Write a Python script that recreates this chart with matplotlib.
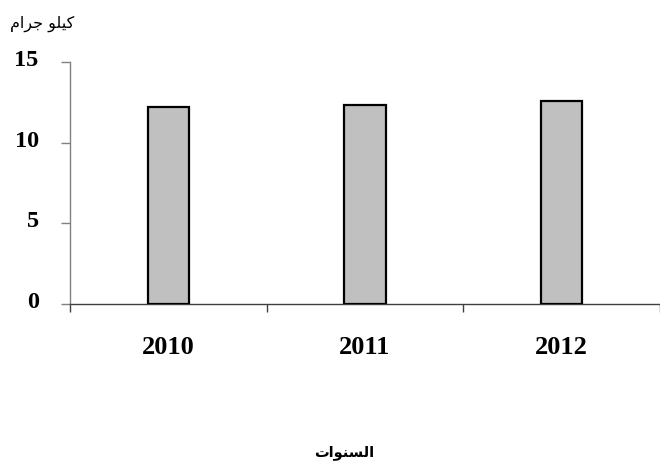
import matplotlib
matplotlib.use("Agg")
import matplotlib.pyplot as plt
from matplotlib.transforms import ScaledTranslation

years = ["2010", "2011", "2012"]
values = [12.2, 12.3, 12.6]
yticks = [0, 5, 10, 15]

# Arabic text written with presentation forms in visual order (matplotlib has no shaping/bidi)
ylabel_txt = "\uFEE1\uFE8D\uFEAE\uFE9F \uFEEE\uFEE0\uFEF4\uFEDB"   # كيلو جرام
xlabel_txt = "\uFE95\uFE8D\uFEEE\uFEE8\uFEB4\uFEDF\uFE8D"           # السنوات

fig = plt.figure(figsize=(6.6, 4.67), dpi=100)
ax = fig.add_axes([70/660, 1-304.3/467, 590/660, (304.3-61.7)/467])

x = list(range(len(years)))
ax.bar(x, values, width=0.21, color="#C0C0C0", edgecolor="black", linewidth=1.6, zorder=3)

ax.set_xlim(-0.5, len(years) - 0.5)
ax.set_ylim(0, 15)
for s in ["top", "right"]:
    ax.spines[s].set_visible(False)
ax.spines["left"].set_color("#808080")
ax.spines["bottom"].set_color("#404040")
ax.spines["left"].set_linewidth(1.0)
ax.spines["bottom"].set_linewidth(1.0)

ax.set_yticks(yticks)
ax.set_yticklabels([str(v) for v in yticks], fontfamily="Liberation Serif",
                   fontweight="bold", fontsize=17.5)
ax.tick_params(axis="y", direction="out", length=6.5, width=1.0, color="#808080", pad=16)
for lab in ax.get_yticklabels():
    lab.set_transform(lab.get_transform() + ScaledTranslation(0, 4/100, fig.dpi_scale_trans))

ax.set_xticks([i - 0.5 for i in range(len(years) + 1)])
ax.set_xticklabels([""] * (len(years) + 1))
ax.set_xticks(x, minor=True)
ax.set_xticklabels(years, minor=True, fontfamily="Liberation Serif",
                   fontweight="bold", fontsize=19)
ax.tick_params(axis="x", which="major", direction="out", length=6, width=1.0, color="#404040")
ax.tick_params(axis="x", which="minor", length=0, pad=23)

fig.text(42/660, 1-24/467, ylabel_txt, fontfamily="DejaVu Sans", fontsize=11.5,
         ha="center", va="center")
fig.text(344/660, 1-453/467, xlabel_txt, fontfamily="DejaVu Sans", fontsize=10.5,
         fontweight="bold", ha="center", va="center")

fig.savefig("out.png", dpi=100)
